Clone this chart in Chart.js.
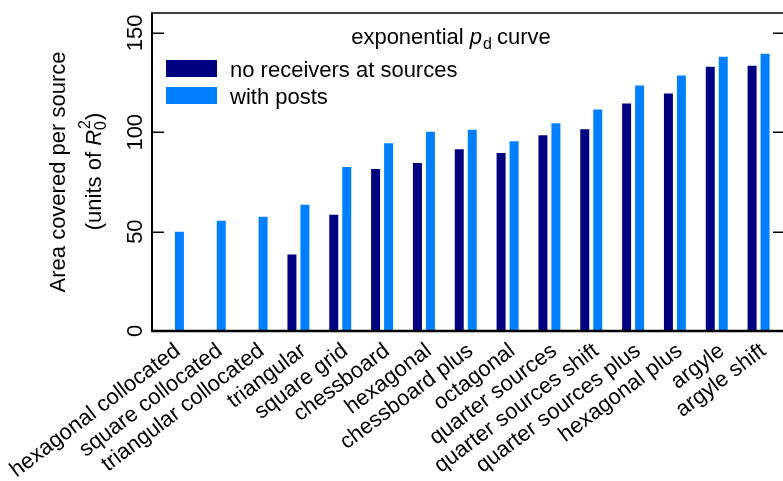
<!DOCTYPE html>
<html>
<head>
<meta charset="utf-8">
<script src="https://cdn.jsdelivr.net/npm/chart.js@4/dist/chart.umd.min.js"></script>
<style>
html,body{margin:0;padding:0;background:#fff;}
#wrap{width:783px;height:481px;}
</style>
</head>
<body>
<div id="wrap"><canvas id="c" width="783" height="481"></canvas></div>
<script>
const categories = ["hexagonal collocated","square collocated","triangular collocated","triangular","square grid","chessboard","hexagonal","chessboard plus","octagonal","quarter sources","quarter sources shift","quarter sources plus","hexagonal plus","argyle","argyle shift"];
const noReceivers = [null, null, null, 38.5, 58.5, 81.5, 84.5, 91.5, 89.5, 98.5, 101.5, 114.5, 119.5, 133, 133.5];
const withPosts = [50, 55.5, 57.5, 63.5, 82.5, 94.5, 100.3, 101.3, 95.5, 104.5, 111.5, 123.5, 128.5, 138, 139.5];
const seriesLabels = ["no receivers at sources", "with posts"];
const yTickValues = [0, 50, 100, 150];
const yMax = 160;

const FONT = '"Liberation Sans", Arial, Helvetica, sans-serif';
const FS = 22;

function drawParts(ctx, parts, cx, baseY) {
  let total = 0;
  const widths = parts.map(p => {
    ctx.font = (p.italic ? 'italic ' : '') + p.size + 'px ' + FONT;
    const w = p.noAdvance ? 0 : ctx.measureText(p.t).width;
    total += w;
    return w;
  });
  let x = cx - total / 2;
  ctx.textAlign = 'left';
  ctx.textBaseline = 'alphabetic';
  parts.forEach((p, i) => {
    ctx.font = (p.italic ? 'italic ' : '') + p.size + 'px ' + FONT;
    ctx.fillText(p.t, x + (p.dx || 0), baseY + (p.dy || 0));
    x += widths[i];
  });
}

const decor = {
  id: 'decor',
  afterDraw(chart) {
    const ctx = chart.ctx, ca = chart.chartArea, ys = chart.scales.y;
    const W = chart.width;
    ctx.save();
    ctx.strokeStyle = '#000';
    ctx.fillStyle = '#000';
    ctx.lineWidth = 2;
    ctx.beginPath(); ctx.moveTo(ca.left, ca.top); ctx.lineTo(ca.left, ca.bottom + 1); ctx.stroke();
    ctx.lineWidth = 1.5;
    ctx.beginPath(); ctx.moveTo(ca.left - 1, ca.top); ctx.lineTo(W, ca.top); ctx.stroke();
    ctx.lineWidth = 2.5;
    ctx.beginPath(); ctx.moveTo(ca.left - 1, ca.bottom); ctx.lineTo(W, ca.bottom); ctx.stroke();
    ctx.lineWidth = 1.5;
    yTickValues.forEach(v => {
      const py = Math.round(ys.getPixelForValue(v)) + 0.25;
      if (v !== 0) {
        ctx.beginPath(); ctx.moveTo(ca.left, py); ctx.lineTo(ca.left + 12, py); ctx.stroke();
        ctx.beginPath(); ctx.moveTo(W - 10, py); ctx.lineTo(W, py); ctx.stroke();
      }
      ctx.save();
      ctx.translate(142, ys.getPixelForValue(v));
      ctx.rotate(-Math.PI / 2);
      ctx.font = FS + 'px ' + FONT;
      ctx.textAlign = 'center';
      ctx.textBaseline = 'alphabetic';
      ctx.fillText(String(v), 0, 0);
      ctx.restore();
    });
    const cy = (ca.top + ca.bottom) / 2;
    ctx.save();
    ctx.translate(65, cy);
    ctx.rotate(-Math.PI / 2);
    ctx.font = FS + 'px ' + FONT;
    ctx.textAlign = 'center';
    ctx.textBaseline = 'alphabetic';
    ctx.fillText('Area covered per source', 0, 0);
    ctx.restore();
    ctx.save();
    ctx.translate(101, cy);
    ctx.rotate(-Math.PI / 2);
    drawParts(ctx, [
      {t: '(units of ', size: FS},
      {t: 'R', size: FS, italic: true},
      {t: '2', size: 16, dy: -11, noAdvance: true, dx: 1},
      {t: '0', size: 16, dy: 5},
      {t: ')', size: FS, dx: 1}
    ], 0, 0);
    ctx.restore();
    drawParts(ctx, [
      {t: 'exponential ', size: FS},
      {t: 'p', size: FS, italic: true},
      {t: 'd', size: 16, dy: 5, dx: 1},
      {t: ' curve', size: FS}
    ], 451, 44);
    const ds = chart.data.datasets;
    const rows = [{y0: 60, base: 77}, {y0: 87, base: 104}];
    ds.forEach((d, i) => {
      ctx.fillStyle = d.backgroundColor;
      ctx.fillRect(166, rows[i].y0, 51, 17);
      ctx.fillStyle = '#000';
      ctx.font = FS + 'px ' + FONT;
      ctx.textAlign = 'left';
      ctx.textBaseline = 'alphabetic';
      ctx.fillText(d.label, 230, rows[i].base);
    });
    ctx.restore();
  }
};

new Chart(document.getElementById('c'), {
  type: 'bar',
  data: {
    labels: categories,
    datasets: [
      {label: seriesLabels[0], data: noReceivers, backgroundColor: '#000080', borderWidth: 0,
       categoryPercentage: 0.621, barPercentage: 0.692},
      {label: seriesLabels[1], data: withPosts, backgroundColor: '#0080FF', borderWidth: 0,
       categoryPercentage: 0.621, barPercentage: 0.692}
    ]
  },
  options: {
    responsive: false,
    animation: false,
    devicePixelRatio: 1,
    layout: {padding: {left: 0, right: 3.5, top: 13, bottom: 0}},
    plugins: {legend: {display: false}, tooltip: {enabled: false}, title: {display: false}},
    scales: {
      x: {
        grid: {display: false, drawTicks: false},
        border: {display: false},
        ticks: {
          autoSkip: false, minRotation: 37, maxRotation: 37, padding: 7, labelOffset: 5,
          color: '#000', font: {family: FONT, size: FS}
        },
        afterFit(s) { s.height = 150; s.paddingLeft = 0; s.paddingRight = 0; }
      },
      y: {
        min: 0, max: yMax,
        grid: {display: false, drawTicks: false},
        border: {display: false},
        ticks: {display: false, stepSize: 50},
        afterFit(s) { s.width = 152; }
      }
    }
  },
  plugins: [decor]
});
</script>
</body>
</html>
